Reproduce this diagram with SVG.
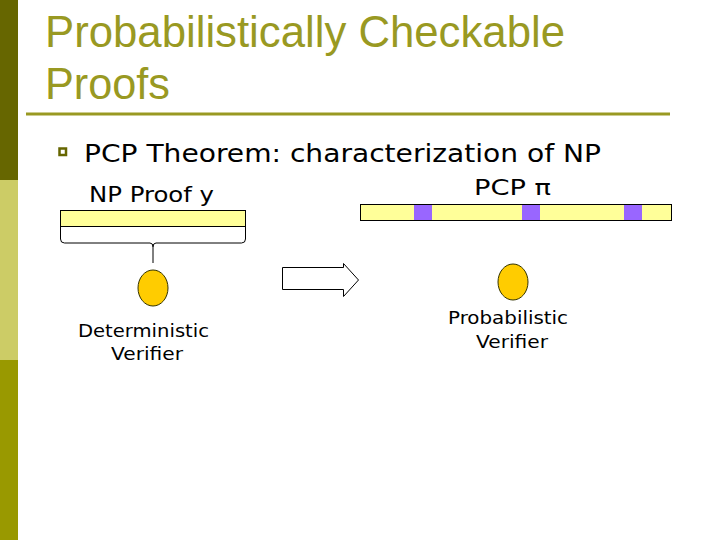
<svg xmlns="http://www.w3.org/2000/svg" width="720" height="540" viewBox="0 0 720 540">
<style>
.title{font-family:"Liberation Sans",Arial,sans-serif;font-size:45px;fill:#999922}
.t{font-family:"DejaVu Sans",Verdana,sans-serif;fill:#000}
.bar{fill:#ffff99;stroke:#000;stroke-width:1}
.sq{fill:#9966ff}
.ell{fill:#ffcc00;stroke:#333300;stroke-width:1}
</style>
<rect width="720" height="540" fill="#fff"/>
<rect x="0" y="0" width="18" height="180" fill="#666600"/>
<rect x="0" y="180" width="18" height="180" fill="#cccc66"/>
<rect x="0" y="360" width="18" height="180" fill="#999900"/>
<text class="title" x="45" y="47" textLength="520" lengthAdjust="spacingAndGlyphs">Probabilistically Checkable</text>
<text class="title" x="45" y="99" textLength="125" lengthAdjust="spacingAndGlyphs">Proofs</text>
<line x1="26" y1="114" x2="670" y2="114" stroke="#999922" stroke-width="3"/>
<rect x="59.5" y="148.5" width="6.5" height="6.5" fill="none" stroke="#666600" stroke-width="2.5"/>
<text class="t" x="84" y="162" font-size="24.5" textLength="517" lengthAdjust="spacingAndGlyphs">PCP Theorem: characterization of NP</text>
<g id="np-proof">
<text class="t" x="89" y="202" font-size="21.5" textLength="125" lengthAdjust="spacingAndGlyphs">NP Proof y</text>
<rect class="bar" x="60.5" y="210.5" width="185" height="16"/>
<path d="M60.5,226.5 V239 Q60.5,243 64.5,243 H150 Q153,243 153,247 V263 M245.5,226.5 V239 Q245.5,243 241.5,243 H156 Q153,243 153,247" fill="none" stroke="#000" stroke-width="1"/>
</g>
<g id="det-verifier">
<ellipse class="ell" cx="153" cy="288" rx="15" ry="18"/>
<text class="t" x="78" y="337" font-size="18.5" textLength="131" lengthAdjust="spacingAndGlyphs">Deterministic</text>
<text class="t" x="111" y="360" font-size="18.5" textLength="72" lengthAdjust="spacingAndGlyphs">Verifier</text>
</g>
<g id="connectors">
<polygon points="282.5,267.5 343.5,267.5 343.5,263.5 358.5,280 343.5,296.5 343.5,289.5 282.5,289.5" fill="#fff" stroke="#000" stroke-width="1"/>
</g>
<g id="pcp">
<text class="t" x="474" y="195" font-size="20.5" textLength="77" lengthAdjust="spacingAndGlyphs">PCP  π</text>
<rect class="bar" x="360.5" y="204.5" width="311" height="16"/>
<rect class="sq" x="414" y="205" width="18" height="15"/>
<rect class="sq" x="522" y="205" width="18" height="15"/>
<rect class="sq" x="624" y="205" width="18" height="15"/>
</g>
<g id="prob-verifier">
<ellipse class="ell" cx="513" cy="282" rx="15" ry="18"/>
<text class="t" x="448" y="324" font-size="18.5" textLength="120" lengthAdjust="spacingAndGlyphs">Probabilistic</text>
<text class="t" x="476" y="348" font-size="18.5" textLength="72" lengthAdjust="spacingAndGlyphs">Verifier</text>
</g>
</svg>
